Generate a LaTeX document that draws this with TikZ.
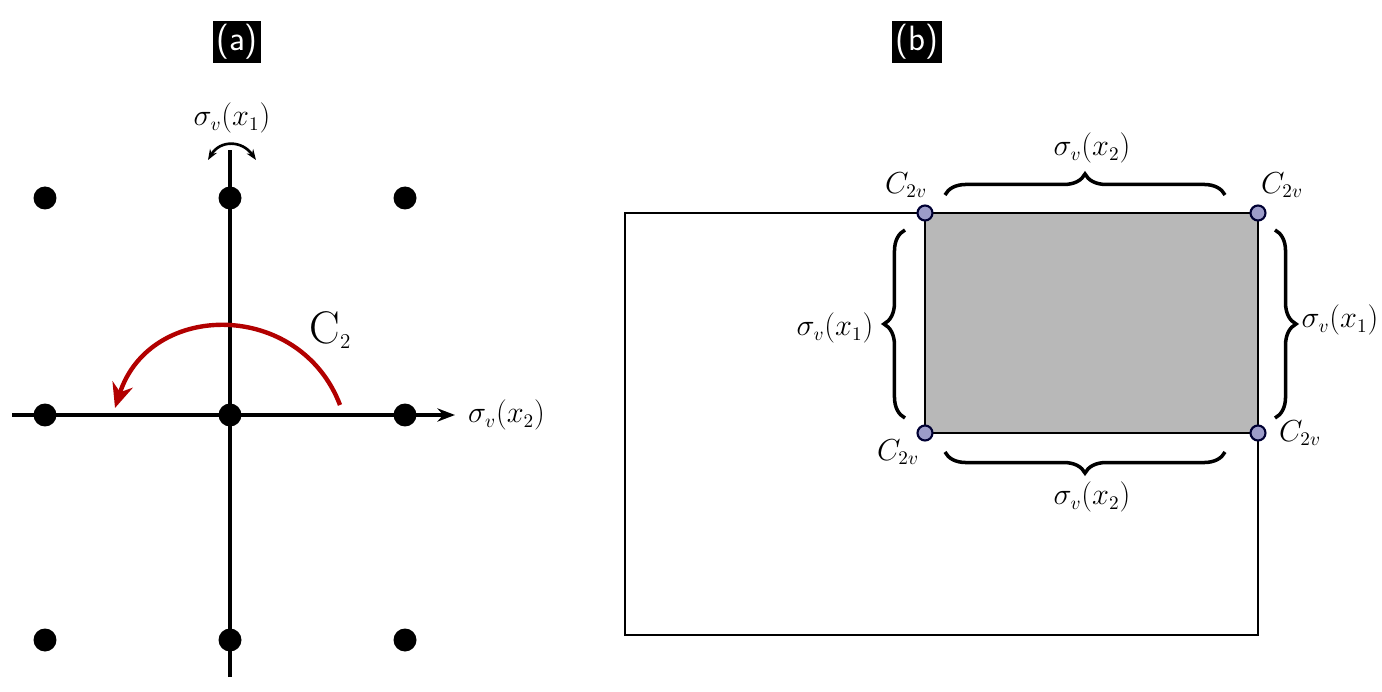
\documentclass[tikz,border=0pt]{standalone}
\usetikzlibrary{decorations.pathreplacing,arrows.meta}
\begin{document}
\begin{tikzpicture}[x=0.02cm,y=-0.02cm,
  every node/.style={font=\fontsize{16}{19}\selectfont},
  dot/.style={circle,fill=black,inner sep=0pt,minimum size=0.46cm},
  corner/.style={circle,draw=black!80!blue,fill=gray!70!blue!60,line width=1.2pt,inner sep=0pt,minimum size=0.3cm},
  tag/.style={fill=black,text=white,font=\sffamily\fontsize{20}{24}\selectfont,inner sep=2pt},
  brace_style/.style={decorate,decoration={brace,amplitude=12pt},line width=2pt}]
\useasboundingbox (0,0) rectangle (1382,692);
% panel (a)
\node[tag] (ta) at (237,42) {(a)};
\node[tag] (tb) at (917,42) {(b)};
\coordinate (vt) at (230,150);
\coordinate (vb) at (230,677);
\coordinate (hl) at (12,415);
\coordinate (hr) at (455,415);
\draw[line width=2pt] (vb) -- (vt);
\draw[line width=2pt,-{Stealth[length=10pt]}] (hl) -- (hr);
\foreach \i/\x in {1/45,2/230,3/405}
  \foreach \j/\y in {1/198,2/415,3/640}
    \node[dot] (d\i\j) at (\x,\y) {};
\node (sx1) at (232,118) {$\sigma_v(x_1)$};
\node[anchor=west] (sx2) at (462,415) {$\sigma_v(x_2)$};
\draw[line width=1.5pt,{Stealth[length=6pt]}-{Stealth[length=6pt]}] (208,160) .. controls (220,140) and (242,140) .. (256,160);
\draw[red!70!black,line width=2.5pt,-{Stealth[length=14pt,width=12pt]}] (340,405) .. controls (300,300) and (150,300) .. (115,408);
\node[font=\fontsize{26}{30}\selectfont] (c2) at (330,330) {C\raisebox{-0.3ex}{\fontsize{12}{14}\selectfont 2}};
% panel (b)
\draw[line width=1.5pt] (625,213) rectangle (1258,635);
\draw[line width=1.5pt,fill=black!28] (925,213) rectangle (1258,433);
\node[corner] (ctl) at (925,213) {};
\node[corner] (ctr) at (1258,213) {};
\node[corner] (cbl) at (925,433) {};
\node[corner] (cbr) at (1258,433) {};
\draw[brace_style] (945,195) -- (1225,195);
\draw[brace_style] (1225,452) -- (945,452);
\draw[brace_style] (905,418) -- (905,230);
\draw[brace_style] (1275,230) -- (1275,418);
\node (bt) at (1092,148) {$\sigma_v(x_2)$};
\node (bb) at (1092,497) {$\sigma_v(x_2)$};
\node (bl) at (835,328) {$\sigma_v(x_1)$};
\node (br) at (1340,320) {$\sigma_v(x_1)$};
\node (l1) at (906,185) {$C_{2v}$};
\node (l2) at (1282,185) {$C_{2v}$};
\node (l3) at (898,452) {$C_{2v}$};
\node (l4) at (1300,433) {$C_{2v}$};
\end{tikzpicture}
\end{document}
